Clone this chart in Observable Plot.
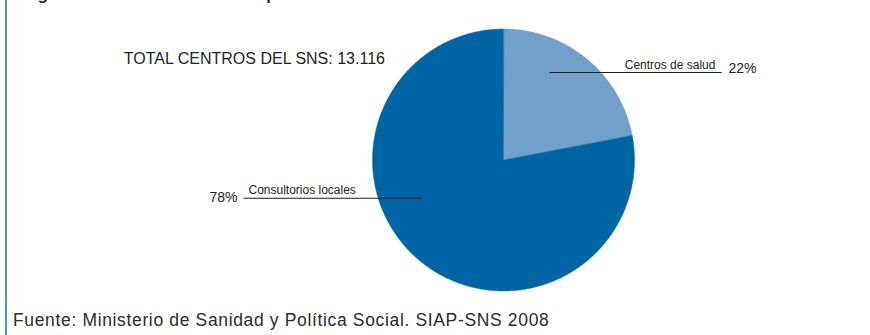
<!DOCTYPE html>
<html><head><meta charset="utf-8">
<script src="https://cdn.jsdelivr.net/npm/d3@7"></script>
<script src="https://cdn.jsdelivr.net/npm/@observablehq/plot@0.6"></script>
<style>
body{margin:0;background:#fff;font-family:"Liberation Sans",Arial,sans-serif;}
#wrap{margin-left:5px;border-left:2px solid #4f8fc3;width:863px;height:335px;overflow:hidden;}
#caption{margin-top:10px;line-height:20px;font-size:17.5px;letter-spacing:0.65px;color:#2b2b2b;padding-left:6px;white-space:nowrap;}
</style></head><body>
<div id="wrap"><div id="chart"></div><div id="caption"></div></div>
<script>
// ---- data ----
const categories = ["Centros de salud", "Consultorios locales"];
const percentages = [22, 78];
const totalLabel = "TOTAL CENTROS DEL SNS: 13.116";
const titleText = "Figura 2. Centros de atención primaria";
const sourceText = "Fuente: Ministerio de Sanidad y Política Social. SIAP-SNS 2008";

// ---- layout / style ----
const W = 863, H = 300, cx = 496, cy = 159.5, R = 131;
const sliceColors = ["#72a0cb", "#0065a5"];
const ink = "#231f20";
const labelLayout = [
  {x1: 0.351, y1: 0.668, x2: 1.664, side: "right"},
  {x1: -0.621, y1: -0.292, x2: -1.985, side: "left"}
];

const total = d3.sum(percentages);
let acc = 0;
const slicePts = [];
categories.forEach((c, i) => {
  const a0 = acc / total * 2 * Math.PI;
  acc += percentages[i];
  const a1 = acc / total * 2 * Math.PI;
  slicePts.push({c, x: 0, y: 0});
  const n = Math.ceil((a1 - a0) / (Math.PI / 720));
  for (let k = 0; k <= n; k++) {
    const a = a0 + (a1 - a0) * k / n;
    slicePts.push({c, x: Math.sin(a), y: Math.cos(a)});
  }
});

const labels = categories.map((name, i) => ({name, value: percentages[i], ...labelLayout[i]}));

const sliceMarks = categories.map((c, i) =>
  Plot.line(slicePts.filter(d => d.c === c), {
    x: "x", y: "y", fill: sliceColors[i], stroke: sliceColors[i], strokeWidth: 0.5, curve: "linear-closed"
  })
);

const chart = Plot.plot({
  width: W, height: H, margin: 0,
  x: {domain: [-cx / R, (W - cx) / R], axis: null},
  y: {domain: [-(H - cy) / R, cy / R], axis: null},
  style: {fontFamily: "'Liberation Sans', Arial, sans-serif", background: "transparent", overflow: "visible"},
  marks: [
    ...sliceMarks,
    Plot.link(labels, {x1: "x1", y1: "y1", x2: "x2", y2: "y1", stroke: "#1e1e1e", strokeWidth: 1.1}),
    Plot.text(labels, {filter: d => d.side === "right", x: "x2", y: "y1", text: "name", textAnchor: "end", lineAnchor: "bottom", dx: -6, dy: -3.7, fontSize: 12, fill: ink}),
    Plot.text(labels, {filter: d => d.side === "right", x: "x2", y: "y1", text: d => `${d.value}%`, textAnchor: "start", lineAnchor: "bottom", dx: 7, dy: 0.5, fontSize: 14, fill: ink}),
    Plot.text(labels, {filter: d => d.side === "left", x: "x2", y: "y1", text: "name", textAnchor: "start", lineAnchor: "bottom", dx: 5, dy: -4.4, fontSize: 12, fill: ink}),
    Plot.text(labels, {filter: d => d.side === "left", x: "x2", y: "y1", text: d => `${d.value}%`, textAnchor: "end", lineAnchor: "bottom", dx: -6, dy: 3.3, fontSize: 14, fill: ink}),
    Plot.text([totalLabel], {text: d => d, frameAnchor: "top-left", textAnchor: "start", lineAnchor: "bottom", dx: 116.3, dy: 63.3, fontSize: 16, fill: ink}),
    Plot.text([titleText], {text: d => d, frameAnchor: "top-left", textAnchor: "start", lineAnchor: "bottom", dx: 15, dy: -1, fontSize: 17, fontWeight: "bold", fill: ink})
  ]
});
document.getElementById("chart").appendChild(chart);
document.getElementById("caption").textContent = sourceText;
</script>
</body></html>
